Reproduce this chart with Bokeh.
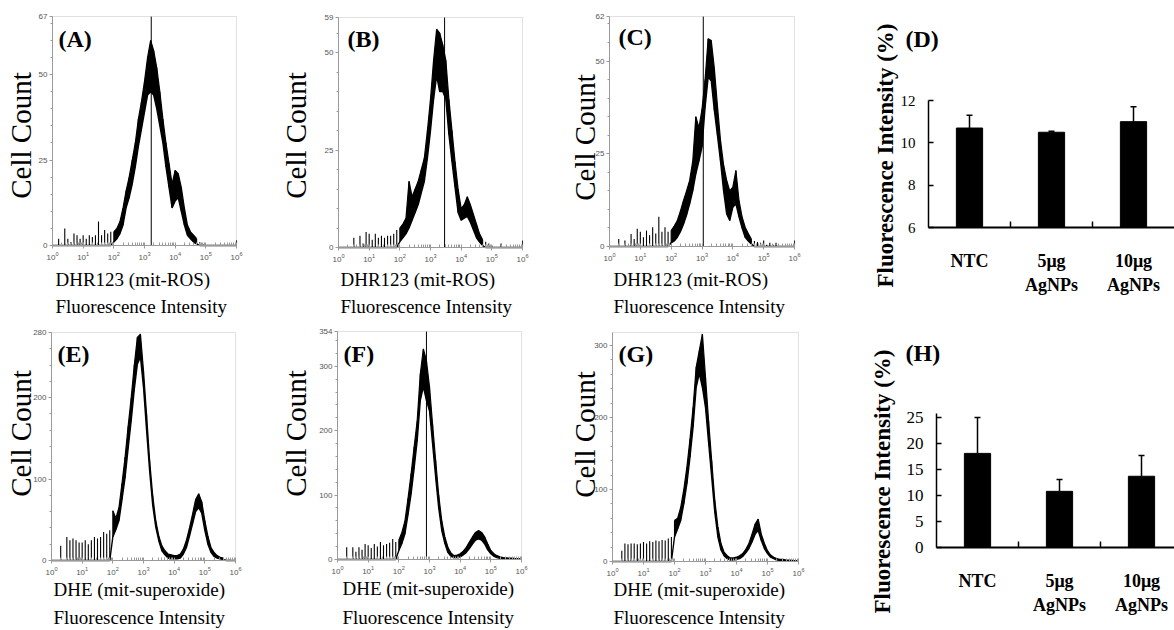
import numpy as np
from math import pi, log10
from bokeh.plotting import figure
from bokeh.models import FixedTicker, Label, Whisker, TeeHead, ColumnDataSource, Range1d, BoxAnnotation
from bokeh.layouts import row, column
from bokeh.embed import file_html
from bokeh.resources import INLINE

# ---------------- data ----------------
# log10 of channel centre (fluorescence intensity, 10^0 .. 10^6)
channel_exp = [round(0.1 * i, 1) for i in range(61)]

# Panel A  DHR123 (NTC)
hi_A = [0, 0, 2, 0, 5, 2, 1, 3.5, 3, 2,
        3, 2, 3, 2.5, 3, 7, 3, 4.5, 3.5, 4,
        4, 5, 7, 11, 16, 20, 25, 30, 37, 42,
        48, 55, 60, 57, 52, 45, 37, 30, 24, 18,
        22, 21, 17, 11, 6, 4, 3, 2, 1, 0.5,
        0, 0, 0, 0, 0, 0, 0, 0, 0, 0, 1.5]
lo_A = [0] * 20 + [1, 2, 3.5, 6, 11, 14, 18, 23, 29, 34,
                   39, 44, 45, 44, 40, 35, 30, 23, 17, 11,
                   13, 14, 10, 6, 3, 2, 1, 0.5] + [0] * 13
# Panel B  DHR123 (5 ug)
hi_B = [0, 0, 0, 0, 0, 2.5, 0, 3, 1, 4,
        3.5, 2, 3.5, 2.5, 3, 2.5, 3, 3, 3.5, 4.5,
        5, 6, 7.5, 17, 13, 15, 17, 20, 23, 30,
        38, 48, 56, 55, 52, 48, 38, 30, 22, 15,
        10, 11, 13, 11, 8.5, 6, 3.5, 2, 1.5, 1,
        0.5, 0, 0, 1, 0, 0, 0, 0, 0, 0, 1.8]
lo_B = [0] * 20 + [1.5, 2.5, 3.5, 5, 7, 9, 11, 14, 17, 23,
                   30, 38, 44, 40, 40, 38, 29, 22, 15.5, 9,
                   7, 7.5, 8, 6.5, 4.5, 2.5, 1.4, 0.5] + [0] * 13
# Panel C  DHR123 (10 ug)
hi_C = [0, 0, 0, 2, 0, 1.6, 0, 3.4, 2, 4.8,
        4, 2.5, 4.3, 3, 5.2, 3.5, 8, 4, 5.2, 4,
        4.3, 5.5, 7, 9.5, 12.4, 15, 17.8, 23, 35, 32,
        37, 45, 56, 55.5, 48, 38, 28.6, 22, 17.8, 15,
        16, 20.5, 12.4, 8, 5.2, 3.5, 2, 1.5, 1.2, 1,
        1.6, 0.5, 1, 0.5, 1, 0, 0, 0, 0, 0, 1.6]
lo_C = [0] * 20 + [1, 1.5, 2.5, 4, 6, 8.5, 11.5, 15, 19.6, 23,
                   26.8, 37.5, 45.6, 44.7, 36.7, 30, 23, 15, 8.8, 7,
                   10.6, 11.5, 8, 5, 2.5, 1.5, 0.7] + [0] * 14
# Panel E  DHE (NTC)
hi_E = [0, 0, 0, 18, 0, 29, 25, 27, 25, 22,
        22, 25, 20, 25, 29, 27, 29, 35, 33, 37,
        61, 52, 65, 95, 127, 165, 200, 240, 274, 278,
        233, 180, 123, 80, 49, 30, 18, 12, 8, 7,
        6, 6, 8, 14, 25, 40, 57, 75, 82, 72,
        49, 30, 16, 10, 6, 4, 3, 2, 1, 0.5, 0.5]
lo_E = [0] * 20 + [29, 38, 49, 75, 102, 138, 172, 210, 241, 250,
                   213, 160, 110, 68, 41, 24, 12, 7, 3, 2,
                   2, 2, 3, 8, 16, 30, 45, 60, 65, 58,
                   37, 20, 10, 5, 3, 2, 1] + [0] * 4
# Panel F  DHE (5 ug)
hi_F = [0, 0, 0, 19, 0, 19, 12, 19, 15, 24,
        22, 18, 24, 20, 27, 22, 24, 26, 32, 27,
        30, 42, 60, 95, 133, 175, 216, 288, 327, 309,
        268, 210, 154, 100, 60, 35, 19, 10, 6, 7,
        9, 13, 19, 27, 35, 42, 45, 42, 35, 24,
        14, 9, 6, 4, 3, 2.5, 2, 2, 1.5, 1, 1]
lo_F = [0] * 20 + [14, 25, 40, 70, 102, 142, 185, 247, 268, 247,
                   231, 180, 128, 80, 45, 25, 11, 5, 3, 3,
                   4, 7, 11, 17, 24, 30, 32, 30, 24, 15,
                   9, 5, 3, 2, 1, 1, 0.5, 0.5, 0.5, 0.5, 0.5]
# Panel G  DHE (10 ug)
hi_G = [0, 0, 0, 15, 25, 24, 25, 25, 24, 25,
        27, 25, 28, 27, 29, 28, 30, 29, 32, 34,
        57, 60, 75, 100, 131, 170, 214, 270, 293, 316,
        256, 195, 140, 85, 48, 25, 13, 8, 5, 5,
        6, 8, 11, 17, 25, 38, 52, 59, 38, 25,
        15, 9, 6, 4, 3, 3, 2, 2, 1.5, 1, 1]
lo_G = [0] * 20 + [34, 45, 57, 80, 108, 145, 187, 242, 261, 242,
                   214, 165, 117, 68, 34, 16, 8, 4, 2, 2,
                   3, 4, 7, 12, 18, 27, 38, 43, 29, 18,
                   11, 6, 4, 2, 1.5, 1, 0.5, 0.5, 0.5, 0.5, 0.5]

# gate / cursor positions (fluorescence intensity)
marker_A = 1660
marker_B = 2880
marker_C = 1100
marker_F = 795

# y-axis maxima, ticks and minor tick step
ymax_A, ticks_A, minor_A = 67, [0, 25, 50, 67], 5
ymax_B, ticks_B, minor_B = 59, [0, 25, 50, 59], 5
ymax_C, ticks_C, minor_C = 62, [0, 25, 50, 62], 5
ymax_E, ticks_E, minor_E = 280, [0, 100, 200, 280], 20
ymax_F, ticks_F, minor_F = 354, [0, 100, 200, 300, 354], 20
ymax_G, ticks_G, minor_G = 318, [0, 100, 200, 300], 20

# bar charts
groups = ["NTC", "5μg\nAgNPs", "10μg\nAgNPs"]
ros_mean = [10.7, 10.5, 11.0]
ros_err = [0.6, 0.05, 0.7]
sup_mean = [18.1, 10.8, 13.7]
sup_err = [6.9, 2.3, 4.0]
ros_ticks = [6, 8, 10, 12]
sup_ticks = [0, 5, 10, 15, 20, 25]

SERIF = "Liberation Serif"
SANS = "Liberation Sans"
GRAY = "#9a9a9a"


class Geo:
    """Maps page pixels to data values for one panel whose frame fills its canvas."""

    def __init__(self, canvas, xmap, ymap, logx=False):
        self.ox, self.oy, self.w, self.h = canvas
        (self.px0, self.dx0), (self.px1, self.dx1) = xmap
        (self.py0, self.dy0), (self.py1, self.dy1) = ymap
        self.logx = logx
        if logx:
            self.dx0, self.dx1 = log10(self.dx0), log10(self.dx1)

    def x(self, px):
        v = self.dx0 + (px - self.px0) * (self.dx1 - self.dx0) / (self.px1 - self.px0)
        return 10 ** v if self.logx else v

    def y(self, py):
        return self.dy0 + (py - self.py0) * (self.dy1 - self.dy0) / (self.py1 - self.py0)

    def xr(self):
        return Range1d(self.x(self.ox), self.x(self.ox + self.w))

    def yr(self):
        return Range1d(self.y(self.oy + self.h), self.y(self.oy))


def base_figure(g, logx):
    p = figure(width=g.w, height=g.h, x_axis_type="log" if logx else "linear",
               x_range=g.xr(), y_range=g.yr(), output_backend="svg", toolbar_location=None,
               min_border_left=0, min_border_right=0, min_border_top=0, min_border_bottom=0)
    p.grid.visible = False
    p.outline_line_color = None
    p.background_fill_color = "white"
    p.border_fill_color = "white"
    return p


def label(p, g, px, py, text, size, bold=False, angle=0.0, align="left"):
    p.add_layout(Label(x=g.x(px), y=g.y(py), text=text, text_font=SERIF, text_font_size=size,
                       text_font_style="bold" if bold else "normal", text_align=align,
                       text_baseline="middle", angle=angle, text_color="black"))


def hist_panel(tag, hi, lo, ymax, yticks, ystep, marker, xname, canvas, box, texts):
    bx0, bx1, by_top, by_bot = box
    g = Geo(canvas, ((bx0, 1), (bx1, 1e6)), ((by_bot, 0), (by_top, ymax)), logx=True)
    p = base_figure(g, True)

    for ax in (p.xaxis[0], p.yaxis[0]):
        ax.axis_line_color = GRAY
        ax.major_tick_line_color = GRAY
        ax.minor_tick_line_color = GRAY
        ax.major_label_text_font = SANS
        ax.major_label_text_font_size = "8px"
        ax.major_label_text_color = "#555555"
    p.xaxis.fixed_location = 0
    p.yaxis.fixed_location = 1
    p.xaxis.bounds = (1, 1e6)
    p.yaxis.bounds = (0, ymax)
    p.yaxis.ticker = FixedTicker(ticks=yticks, minor_ticks=list(range(0, ymax + 1, ystep)))
    p.yaxis.major_tick_in = 0
    p.yaxis.major_tick_out = 3
    p.yaxis.minor_tick_in = 0
    p.yaxis.minor_tick_out = 2
    p.yaxis.major_label_standoff = 2
    p.xaxis.ticker = FixedTicker(ticks=[10 ** k for k in range(7)],
                                 minor_ticks=[m * 10 ** k for k in range(6) for m in range(2, 10)])
    p.xaxis.major_tick_in = 3
    p.xaxis.major_tick_out = 3
    p.xaxis.minor_tick_in = 3
    p.xaxis.minor_tick_out = 0
    p.xaxis.major_label_standoff = 3
    p.add_layout(BoxAnnotation(left=1, right=1e6, bottom=0, top=ymax, fill_color=None,
                               line_color=GRAY, line_width=1))

    xs = np.power(10.0, np.array(channel_exp))
    hi = np.array(hi, dtype=float)
    lo = np.array(lo, dtype=float)
    band = lo > 0
    p.segment(x0=xs, y0=lo, x1=xs, y1=hi, line_color="black", line_width=1.1)
    p.varea(x=xs[band], y1=lo[band], y2=hi[band], fill_color="black")
    p.line(xs[band], hi[band], line_color="black", line_width=1.2)
    p.line(xs, lo, line_color="black", line_width=1.4)
    if marker is not None:
        p.segment(x0=[marker], y0=[0], x1=[marker], y1=[ymax], line_color="black", line_width=1)

    (tx, ty), (cx, cy), (lx, ly1, ly2) = texts
    label(p, g, tx, ty, tag, "24px", bold=True)
    label(p, g, cx, cy, "Cell Count", "29px", angle=pi / 2, align="center")
    label(p, g, lx, ly1, xname, "19px")
    label(p, g, lx, ly2, "Fluorescence Intensity", "19px")
    return p


def bar_panel(tag, mean, err, ybase, yticks, ytop_axis, tick_size, canvas, xmap, ymap, texts):
    g = Geo(canvas, xmap, ymap)
    p = base_figure(g, False)
    xs = [i + 0.5 for i in range(len(groups))]
    p.vbar(x=xs, top=mean, bottom=ybase, width=0.32, fill_color="black", line_color="black")
    src = ColumnDataSource(dict(base=xs, lower=mean, upper=[m + e for m, e in zip(mean, err)]))
    p.add_layout(Whisker(source=src, base="base", lower="lower", upper="upper",
                         line_color="black", line_width=1.5, lower_head=None,
                         upper_head=TeeHead(size=6, line_color="black", line_width=1.5)))

    p.xaxis.fixed_location = ybase
    p.yaxis.fixed_location = 0
    p.yaxis.bounds = (ybase, ytop_axis)
    p.xaxis.bounds = (0, len(groups))
    p.yaxis.ticker = FixedTicker(ticks=yticks)
    p.yaxis.major_tick_in = 5
    p.yaxis.major_tick_out = 0
    p.yaxis.axis_line_width = 1.5
    p.yaxis.major_tick_line_width = 1.5
    p.yaxis.major_label_text_font = SERIF
    p.yaxis.major_label_text_font_size = tick_size
    p.yaxis.major_label_text_color = "black"
    p.yaxis.major_label_standoff = 13

    p.xaxis.ticker = FixedTicker(ticks=xs, minor_ticks=list(range(1, len(groups))))
    p.xaxis.major_label_overrides = {x: grp for x, grp in zip(xs, groups)}
    p.xaxis.major_tick_line_color = None
    p.xaxis.minor_tick_in = 6
    p.xaxis.minor_tick_out = 0
    p.xaxis.minor_tick_line_width = 1.5
    p.xaxis.minor_tick_line_color = "black"
    p.xaxis.axis_line_width = 2
    p.xaxis.major_label_text_font = SERIF
    p.xaxis.major_label_text_font_style = "bold"
    p.xaxis.major_label_text_font_size = "18px"
    p.xaxis.major_label_text_color = "black"
    p.xaxis.major_label_standoff = 17

    (tx, ty), (yx, yy) = texts
    label(p, g, tx, ty, tag, "24px", bold=True)
    label(p, g, yx, yy, "Fluorescence Intensity (%)", "23px", bold=True, angle=pi / 2, align="center")
    return p


pA = hist_panel("(A)", hi_A, lo_A, ymax_A, ticks_A, minor_A, marker_A, "DHR123 (mit-ROS)",
                (0, 0, 270, 320), (52, 236, 16, 245),
                ((58, 38), (20, 135), (55, 279, 306)))
pB = hist_panel("(B)", hi_B, lo_B, ymax_B, ticks_B, minor_B, marker_B, "DHR123 (mit-ROS)",
                (270, 0, 295, 320), (338, 522, 17, 247),
                ((347, 38), (295, 135), (340, 279, 306)))
pC = hist_panel("(C)", hi_C, lo_C, ymax_C, ticks_C, minor_C, marker_C, "DHR123 (mit-ROS)",
                (565, 0, 275, 320), (609, 794, 16, 246),
                ((618, 36), (584, 137), (613, 279, 306)))
pD = bar_panel("(D)", ros_mean, ros_err, 6, ros_ticks, 12, "15px",
               (840, 0, 334, 320), ((928, 0), (1010, 1)), ((227, 6), (100, 12)),
               ((905, 38), (885, 155)))
pE = hist_panel("(E)", hi_E, lo_E, ymax_E, ticks_E, minor_E, None, "DHE (mit-superoxide)",
                (0, 320, 270, 310), (51, 235, 332, 560),
                ((57, 353), (20, 433), (53, 589, 617)))
pF = hist_panel("(F)", hi_F, lo_F, ymax_F, ticks_F, minor_F, marker_F, "DHE (mit-superoxide)",
                (270, 320, 295, 310), (337, 521, 331, 559),
                ((343, 353), (295, 433), (342, 588, 617)))
pG = hist_panel("(G)", hi_G, lo_G, ymax_G, ticks_G, minor_G, None, "DHE (mit-superoxide)",
                (565, 320, 275, 310), (612, 798, 332, 561),
                ((618, 353), (584, 434), (613, 589, 617)))
pH = bar_panel("(H)", sup_mean, sup_err, 0, sup_ticks, 25.8, "17px",
               (840, 320, 334, 310), ((936, 0), (1018, 1)), ((547, 0), (417, 25)),
               ((905, 352), (882, 481)))

layout = column(row(pA, pB, pC, pD, spacing=0), row(pE, pF, pG, pH, spacing=0), spacing=0)

open("out.html", "w").write(file_html(layout, INLINE))
